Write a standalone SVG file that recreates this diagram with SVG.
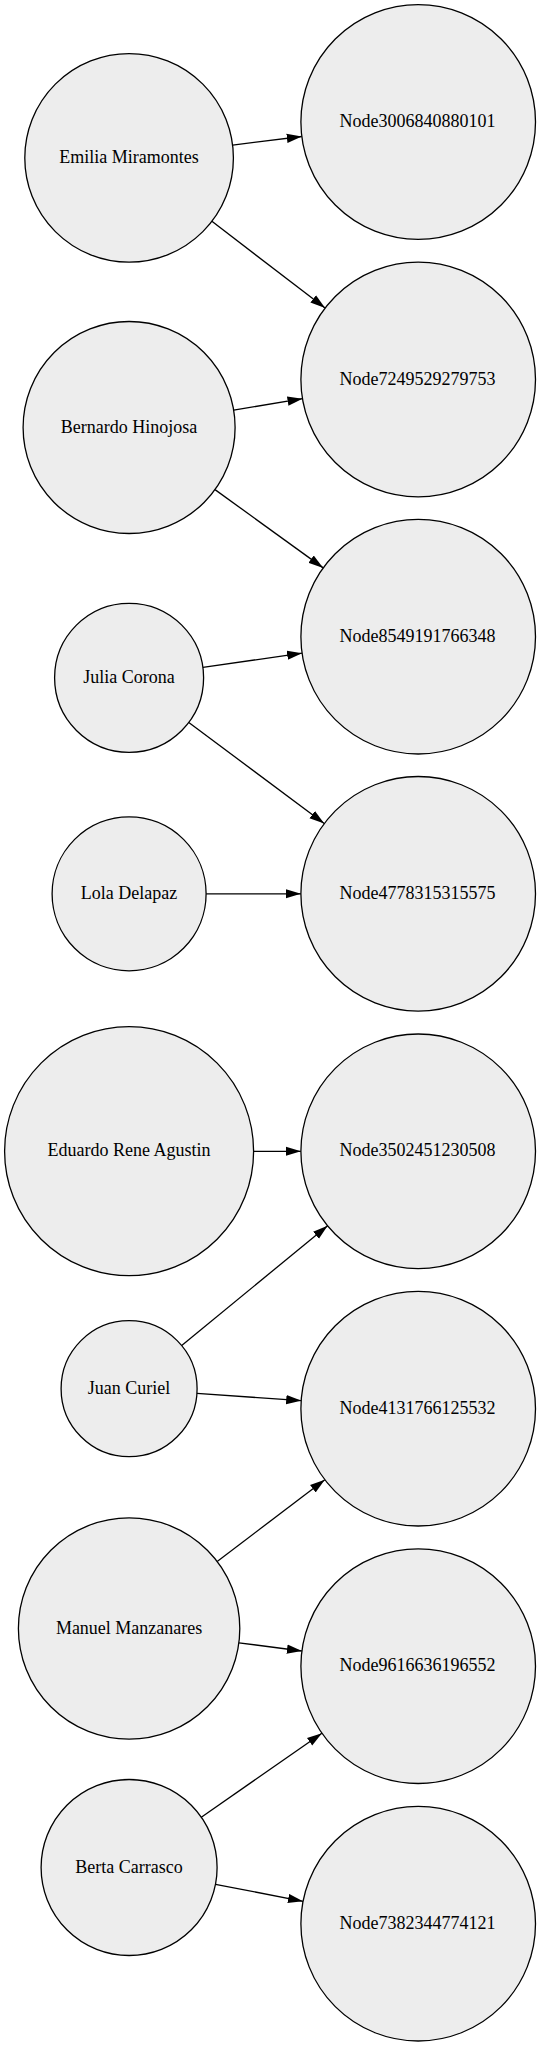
<svg xmlns="http://www.w3.org/2000/svg" width="540" height="2046" viewBox="0 0 540 2046">
<style>
.n circle{fill:#ededed;stroke:#000;stroke-width:1.3}
.n text{font-family:"Liberation Serif","Times New Roman",serif;font-size:18px;text-anchor:middle;fill:#000}
.e line{stroke:#000;stroke-width:1.3;marker-end:url(#ah)}
</style>
<defs>
<marker id="ah" markerUnits="userSpaceOnUse" markerWidth="15" markerHeight="10" viewBox="0 0 15 10" refX="15" refY="5" orient="auto">
<path d="M0,0.4 L15,5 L0,9.6 z" fill="#000"/>
</marker>
</defs>
<rect width="540" height="2046" fill="#fff"/>
<g id="edges" class="e">
<line x1="232.6" y1="145.1" x2="301.8" y2="136.5"/>
<line x1="211.9" y1="221.3" x2="325.1" y2="308.1"/>
<line x1="233.7" y1="410.1" x2="302.5" y2="398.7"/>
<line x1="215" y1="489.6" x2="323.2" y2="567.9"/>
<line x1="202.9" y1="667.3" x2="302.1" y2="653.2"/>
<line x1="188.8" y1="722.4" x2="324.2" y2="823.6"/>
<line x1="206.1" y1="893.8" x2="300.9" y2="893.8"/>
<line x1="253.6" y1="1151.3" x2="300.9" y2="1151.3"/>
<line x1="181.7" y1="1345.5" x2="327.6" y2="1225.7"/>
<line x1="196.9" y1="1393.4" x2="301.2" y2="1400.6"/>
<line x1="217.2" y1="1561.5" x2="324.8" y2="1479.7"/>
<line x1="238.9" y1="1642.8" x2="301.9" y2="1651"/>
<line x1="201.3" y1="1817.2" x2="321.9" y2="1733.2"/>
<line x1="215.5" y1="1884.3" x2="303" y2="1901.3"/>
</g>
<g id="emilia" class="n"><circle cx="129.1" cy="157.9" r="104.3"/><text x="129.1" y="162.9">Emilia Miramontes</text></g>
<g id="bernardo" class="n"><circle cx="129.1" cy="427.5" r="106"/><text x="129.1" y="432.5">Bernardo Hinojosa</text></g>
<g id="julia" class="n"><circle cx="129.1" cy="677.8" r="74.5"/><text x="129.1" y="682.8">Julia Corona</text></g>
<g id="lola" class="n"><circle cx="129.1" cy="893.8" r="77"/><text x="129.1" y="898.8">Lola Delapaz</text></g>
<g id="eduardo" class="n"><circle cx="129.1" cy="1151.2" r="124.5"/><text x="129.1" y="1156.2">Eduardo Rene Agustin</text></g>
<g id="juan" class="n"><circle cx="129.1" cy="1388.7" r="68"/><text x="129.1" y="1393.7">Juan Curiel</text></g>
<g id="manuel" class="n"><circle cx="129.1" cy="1628.5" r="110.7"/><text x="129.1" y="1633.5">Manuel Manzanares</text></g>
<g id="berta" class="n"><circle cx="129.1" cy="1867.5" r="88"/><text x="129.1" y="1872.5">Berta Carrasco</text></g>
<g id="n3006840880101" class="n"><circle cx="418.2" cy="122" r="117.3"/><text x="417.5" y="127">Node3006840880101</text></g>
<g id="n7249529279753" class="n"><circle cx="418.2" cy="379.5" r="117.3"/><text x="417.5" y="384.5">Node7249529279753</text></g>
<g id="n8549191766348" class="n"><circle cx="418.2" cy="636.7" r="117.3"/><text x="417.5" y="641.7">Node8549191766348</text></g>
<g id="n4778315315575" class="n"><circle cx="418.2" cy="893.8" r="117.3"/><text x="417.5" y="898.8">Node4778315315575</text></g>
<g id="n3502451230508" class="n"><circle cx="418.2" cy="1151.3" r="117.3"/><text x="417.5" y="1156.3">Node3502451230508</text></g>
<g id="n4131766125532" class="n"><circle cx="418.2" cy="1408.7" r="117.3"/><text x="417.5" y="1413.7">Node4131766125532</text></g>
<g id="n9616636196552" class="n"><circle cx="418.2" cy="1666.2" r="117.3"/><text x="417.5" y="1671.2">Node9616636196552</text></g>
<g id="n7382344774121" class="n"><circle cx="418.2" cy="1923.7" r="117.3"/><text x="417.5" y="1928.7">Node7382344774121</text></g>
</svg>
